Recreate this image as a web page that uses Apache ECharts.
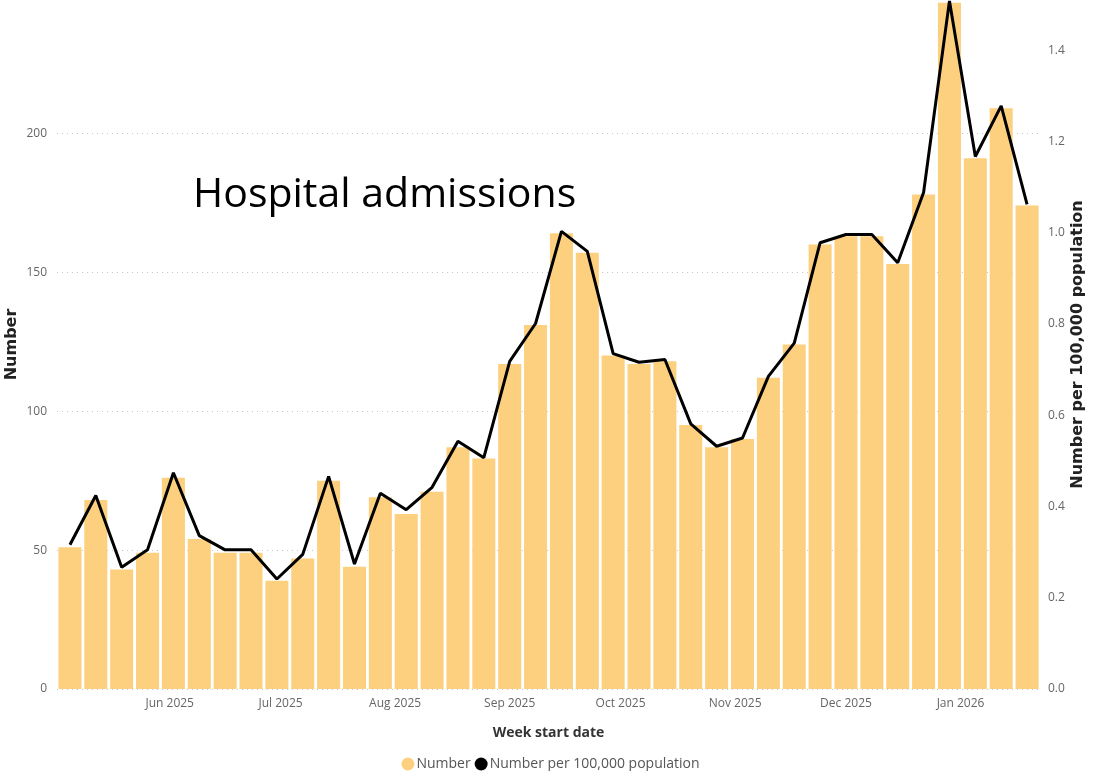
<!DOCTYPE html>
<html>
<head>
<meta charset="utf-8">
<script src="https://cdn.jsdelivr.net/npm/echarts@6/dist/echarts.min.js"></script>
<style>
html,body{margin:0;padding:0;background:#fff;}
#chart{width:1101px;height:771px;}
</style>
</head>
<body>
<div id="chart"></div>
<script>
// Week start dates (Mondays)
const weekStarts = [
  '2025-05-05','2025-05-12','2025-05-19','2025-05-26','2025-06-02','2025-06-09','2025-06-16','2025-06-23',
  '2025-06-30','2025-07-07','2025-07-14','2025-07-21','2025-07-28','2025-08-04','2025-08-11','2025-08-18',
  '2025-08-25','2025-09-01','2025-09-08','2025-09-15','2025-09-22','2025-09-29','2025-10-06','2025-10-13',
  '2025-10-20','2025-10-27','2025-11-03','2025-11-10','2025-11-17','2025-11-24','2025-12-01','2025-12-08',
  '2025-12-15','2025-12-22','2025-12-29','2026-01-05','2026-01-12','2026-01-19'
];
// Hospital admissions (Number)
const numberValues = [
  51, 68, 43, 49, 76, 54, 49, 49, 39, 47, 75, 44, 69, 63, 71, 87, 83, 117, 131, 164,
  157, 120, 117, 118, 95, 87, 90, 112, 124, 160, 163, 163, 153, 178, 247, 191, 209, 174
];
// Number per 100,000 population
const rateValues = [
  0.316, 0.424, 0.267, 0.305, 0.474, 0.336, 0.305, 0.305, 0.241, 0.295, 0.466, 0.274, 0.429, 0.393, 0.442, 0.543,
  0.507, 0.718, 0.801, 1.003, 0.959, 0.735, 0.716, 0.722, 0.581, 0.532, 0.550, 0.685, 0.758, 0.978, 0.996, 0.996,
  0.934, 1.088, 1.508, 1.167, 1.278, 1.062
];
// Month tick labels (first day of each month)
const monthStarts = ['2025-06-01','2025-07-01','2025-08-01','2025-09-01','2025-10-01','2025-11-01','2025-12-01','2026-01-01'];
const monthLabels = ['Jun 2025','Jul 2025','Aug 2025','Sep 2025','Oct 2025','Nov 2025','Dec 2025','Jan 2026'];

const DAY = 86400000;
const t0 = Date.parse(weekStarts[0] + 'T00:00:00Z');
const monthPos = monthStarts.map(d => (Date.parse(d + 'T00:00:00Z') - t0) / (7 * DAY));
const labelByPos = {};
monthPos.forEach((p, i) => { labelByPos[p.toFixed(4)] = monthLabels[i]; });

const chart = echarts.init(document.getElementById('chart'));
const labelFont = 'Open Sans, DejaVu Sans, sans-serif';
const nameFont = 'DejaVu Sans, sans-serif';
chart.setOption({
  animation: false,
  backgroundColor: '#fff',
  title: {
    text: 'Hospital admissions',
    left: 188, top: 170,
    textStyle: { fontFamily: labelFont, fontSize: 41, fontWeight: 'normal', color: '#000' }
  },
  legend: {
    bottom: -5, left: 'center',
    icon: 'circle', itemWidth: 13, itemHeight: 13, itemGap: 4,
    textStyle: { fontFamily: labelFont, fontSize: 14, color: '#555', padding: [0, 0, 0, -3] },
    data: ['Number', 'Number per 100,000 population']
  },
  grid: { left: 57, right: 61, top: 0, bottom: 82, outerBoundsMode: 'none', containLabel: false },
  xAxis: [
    {
      type: 'category', data: weekStarts, boundaryGap: true,
      axisLine: { show: false }, axisTick: { show: false }, axisLabel: { show: false },
      name: 'Week start date', nameLocation: 'middle', nameGap: 37,
      nameTextStyle: { fontFamily: labelFont, fontSize: 14, fontWeight: 'bold', color: '#333' }
    },
    {
      type: 'value', min: -0.5, max: weekStarts.length - 0.5, position: 'bottom',
      axisLine: { show: false }, axisTick: { show: false }, splitLine: { show: false },
      axisLabel: {
        customValues: monthPos, margin: 9,
        fontFamily: labelFont, fontSize: 12, color: '#666',
        formatter: v => labelByPos[Number(v).toFixed(4)] || ''
      }
    }
  ],
  yAxis: [
    {
      type: 'value', min: 0, max: 248, interval: 50,
      axisLine: { show: false }, axisTick: { show: false },
      axisLabel: { showMaxLabel: false, margin: 10, fontFamily: labelFont, fontSize: 12, color: '#666' },
      splitLine: { show: true, showMaxLine: false, lineStyle: { type: [1, 4], color: '#c8c8c8', width: 1 } },
      name: 'Number', nameLocation: 'middle', nameGap: 37, nameRotate: 90, nameMoveOverlap: false,
      nameTextStyle: { fontFamily: nameFont, fontSize: 16, fontWeight: 'bold', color: '#222' }
    },
    {
      type: 'value', min: 0, max: 1.51, interval: 0.2, position: 'right',
      axisLine: { show: false }, axisTick: { show: false }, splitLine: { show: false },
      axisLabel: { showMaxLabel: false, margin: 8, fontFamily: labelFont, fontSize: 12, color: '#666',
        formatter: v => v.toFixed(1) },
      name: 'Number per 100,000 population', nameLocation: 'middle', nameGap: 30, nameRotate: 90, nameMoveOverlap: false,
      nameTextStyle: { fontFamily: nameFont, fontSize: 16, fontWeight: 'bold', color: '#222' }
    }
  ],
  series: [
    {
      name: 'Number', type: 'bar', xAxisIndex: 0, yAxisIndex: 0,
      data: numberValues, barCategoryGap: '11%',
      itemStyle: { color: '#FCD07F' }
    },
    {
      name: 'Number per 100,000 population', type: 'line', xAxisIndex: 0, yAxisIndex: 1,
      data: rateValues, symbol: 'none', itemStyle: { color: '#000' },
      lineStyle: { color: '#000', width: 3 }
    }
  ]
});
</script>
</body>
</html>
